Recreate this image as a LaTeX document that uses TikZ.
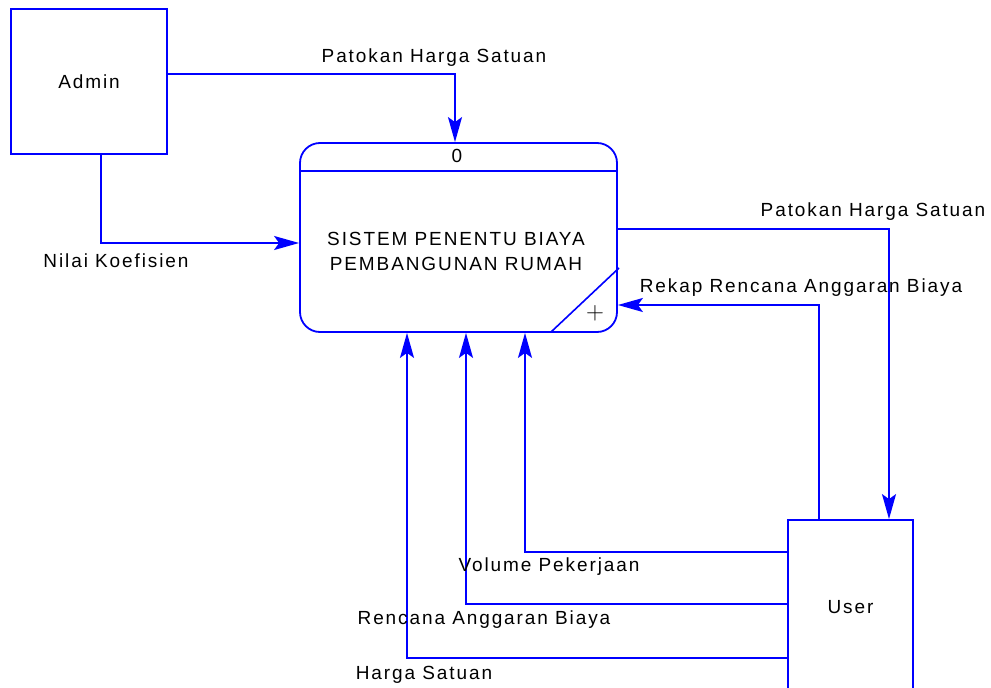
\documentclass[tikz,border=0pt]{standalone}
\usepackage{fontspec}
\setmainfont[LetterSpace=10]{Liberation Sans}
\usetikzlibrary{arrows.meta}
\definecolor{dfdblue}{RGB}{0,0,255}
\begin{document}
\begin{tikzpicture}[x=1pt,y=-1pt,
  flow/.style={draw=dfdblue, line width=1.8pt, -{Stealth[length=25pt,width=14pt,inset=5pt]}},
  entity/.style={draw=dfdblue, line width=1.8pt, rectangle, inner sep=0pt},
  lbl/.style={font=\fontsize{19}{22}\selectfont, text=black, inner sep=0pt},
]
\useasboundingbox (0,0) rectangle (991,688);
\fill[white] (0,0) rectangle (991,688);

% external entities
\node[entity, lbl, minimum width=156pt, minimum height=145pt] (admin) at (89,81.5) {Admin};
\node[entity, lbl, minimum width=125pt, minimum height=174pt] (user) at (850.5,607) {User};

% process 0
\node[draw=dfdblue, line width=1.8pt, rounded corners=20pt, minimum width=317pt,
      minimum height=189pt, inner sep=0pt] (proc) at (458.5,237.5) {};
\draw[dfdblue, line width=1.8pt] (proc.west |- 0,171) -- (proc.east |- 0,171);
\draw[dfdblue, line width=1.6pt] (551,332) -- (619,268);
\node[lbl] (pid) at (457,156) {0};
\node[lbl, align=center, font=\fontsize{19}{25}\selectfont] (pname) at (456,251)
  {SISTEM PENENTU BIAYA\\PEMBANGUNAN RUMAH};
\node[inner sep=0pt, font=\fontsize{23}{23}\selectfont] (plus) at (595,313) {$+$};

% data flows
\draw[flow] (admin.east |- 0,74) -| ([xshift=-3.5pt]proc.north);
\draw[flow] (admin.south -| 101,0) |- (proc.west |- 0,243);
\draw[flow] (proc.east |- 0,229) -| (user.north -| 889,0);
\draw[flow] (user.north -| 819,0) |- (proc.east |- 0,305);
\draw[flow] (user.west |- 0,552) -| (proc.south -| 525,0);
\draw[flow] (user.west |- 0,604) -| (proc.south -| 466,0);
\draw[flow] (user.west |- 0,658) -| (proc.south -| 407,0);

% flow labels
\node[lbl] (l1) at (434,58) {Patokan Harga Satuan};
\node[lbl] (l2) at (116,261) {Nilai Koefisien};
\node[lbl] (l3) at (873,212) {Patokan Harga Satuan};
\node[lbl] (l4) at (801,288) {Rekap Rencana Anggaran Biaya};
\node[lbl] (l5) at (549,567) {Volume Pekerjaan};
\node[lbl] (l6) at (484,620) {Rencana Anggaran Biaya};
\node[lbl] (l7) at (424,675) {Harga Satuan};
\end{tikzpicture}
\end{document}
